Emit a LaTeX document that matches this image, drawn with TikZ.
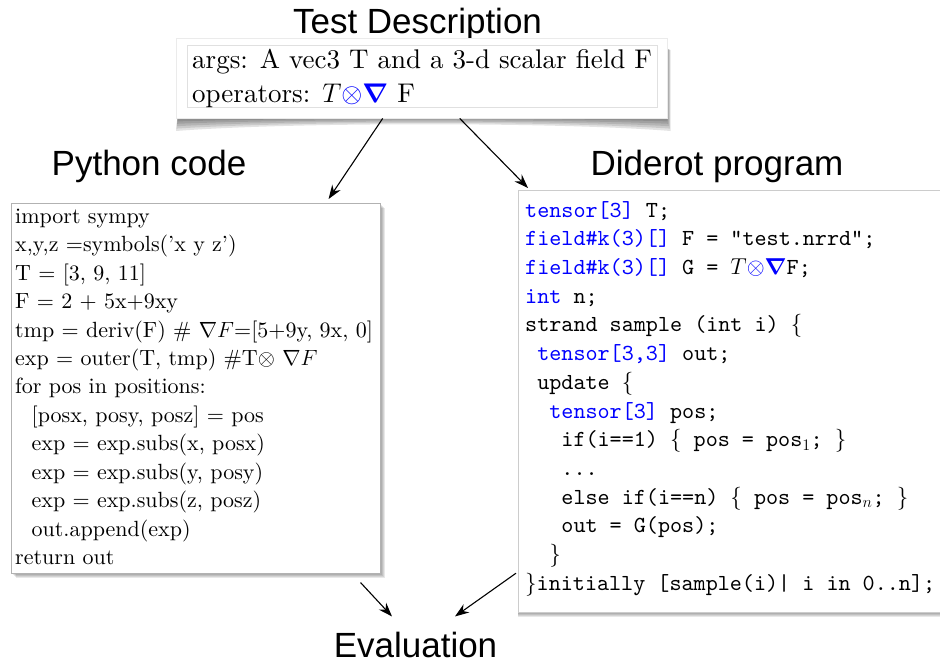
\RequirePackage{fix-cm}
\documentclass[tikz,border=0pt]{standalone}
\usepackage{amsmath}
\usepackage{fontspec}
\setmainfont{lmroman10}[Extension=.otf, UprightFont=*-regular, ItalicFont=*-italic,
  BoldFont=*-bold, BoldItalicFont=*-bolditalic, Ligatures=TeX]
\setmonofont{lmmono10}[Extension=.otf, UprightFont=*-regular, ItalicFont=*-italic]
\newfontfamily\headfont{Liberation Sans}
\usetikzlibrary{arrows.meta}

\definecolor{kw}{RGB}{0,0,255}
\newcommand\kw[1]{\textcolor{kw}{#1}}
\newcommand\tprod{\textcolor{kw}{\otimes}}
\newcommand\tnabla{\textcolor{kw}{\boldsymbol{\nabla}}}
% indentation by a number of monospace characters
\newcommand\ind[1]{\hspace*{#1\dimexpr0.525em\relax}}

\tikzset{
  head/.style={font=\headfont\fontsize{35}{40}\selectfont, inner sep=0pt, anchor=base},
  frame/.style={fill=white, inner sep=0pt, anchor=north west},
  pycode/.style={font=\fontsize{22}{28.45}\selectfont, align=left, inner sep=0pt, anchor=north west},
  ddcode/.style={font=\ttfamily\fontsize{23}{28.7}\selectfont, align=left, inner sep=0pt, anchor=north west},
  desctext/.style={font=\fontsize{27}{34}\selectfont, align=left, inner sep=0pt, anchor=north west},
  arr/.style={line width=1.1pt, -{Stealth[length=14pt,width=10pt]}},
}

\begin{document}
\begin{tikzpicture}[x=1pt,y=-1pt]
\useasboundingbox (0,0) rectangle (940,664);
\clip (0,0) rectangle (940,664);

% ---- titles
\node[head] (tdlabel) at (417.5,33) {Test Description};
\node[head] (pylabel) at (149,175) {Python code};
\node[head] (ddlabel) at (717,175) {Diderot program};
\node[head] (eval) at (415.5,657) {Evaluation};

% ---- test description card with a soft curled shadow
\foreach \k in {0,...,5}
  \fill[black, opacity=.11] (178,110) -- (666,48) -- (667+0.7*\k,50) -- (667+0.7*\k,119+2.4*\k)
    .. controls (560,117+\k) and (290,117+\k) .. (178-0.4*\k,119+2.4*\k) -- cycle;
\node[frame, draw=black!8, minimum width=491pt, minimum height=80pt] (desc) at (176,38) {};
\node[frame, draw=black!12, line width=.6pt, minimum width=470pt, minimum height=62pt] (descframe) at (187,45) {};
\node[desctext] (desctxt) at (192,44.2) {\strut args: A vec3 T and a 3-d scalar field F\\
operators: $T\tprod\tnabla$ F};

% ---- Python card
\foreach \i in {1,...,5}
  \fill[black, opacity=.09] (11+\i,203+\i) rectangle (380+\i,573+\i);
\node[frame, draw=black!30, line width=.6pt, minimum width=369pt, minimum height=370pt] (py) at (11,203) {};
\node[pycode] (pytext) at (15,203.1) {\strut import sympy\\
x,y,z =symbols('x y z')\\
T = [3, 9, 11]\\
F = 2 + 5x+9xy\\
tmp = deriv(F) \# $\nabla F$=[5+9y, 9x, 0]\\
exp = outer(T, tmp) \#T$\otimes$ $\nabla F$\\
for pos in positions:\\
\hspace*{16.5pt}[posx, posy, posz] = pos\\
\hspace*{16.5pt}exp = exp.subs(x, posx)\\
\hspace*{16.5pt}exp = exp.subs(y, posy)\\
\hspace*{16.5pt}exp = exp.subs(z, posz)\\
\hspace*{16.5pt}out.append(exp)\\
return out};

% ---- Diderot card
\foreach \i in {1,...,5}
  \fill[black, opacity=.09] (518,190+\i) rectangle (950,612+\i);
\node[frame, draw=black!20, line width=1.2pt, minimum width=432pt, minimum height=422pt] (dd) at (518,190) {};
\node[ddcode] (ddtext) at (525,196.9) {\strut\kw{tensor[3]} T;\\
\kw{field\#k(3)[]} F = "test.nrrd";\\
\kw{field\#k(3)[]} G = $T\tprod\tnabla$F;\\
\kw{int} n;\\
strand sample (int i) $\{$\\
\ind{1}\kw{tensor[3,3]} out;\\
\ind{1}update $\{$\\
\ind{2}\kw{tensor[3]} pos;\\
\ind{3}if(i==1) $\{$ pos = pos$_1$; $\}$\\
\ind{3}...\\
\ind{3}else if(i==n) $\{$ pos = pos$_n$; $\}$\\
\ind{3}out = G(pos);\\
\ind{2}$\}$\\
$\}$initially [sample(i)| i in 0..n];};

% ---- connectors
\draw[arr] ([xshift=-39pt]desc.south) -- ([xshift=-52pt,yshift=4pt]py.north east);
\draw[arr] ([xshift=38pt]desc.south) -- ([xshift=10pt,yshift=2pt]dd.north west);
\draw[arr] ([xshift=-20pt,yshift=-9pt]py.south east) -- ([xshift=-23.5pt,yshift=15pt]eval.north);
\draw[arr] ([xshift=-2pt,yshift=40pt]dd.south west) -- ([xshift=39.5pt,yshift=15pt]eval.north);
\end{tikzpicture}
\end{document}
